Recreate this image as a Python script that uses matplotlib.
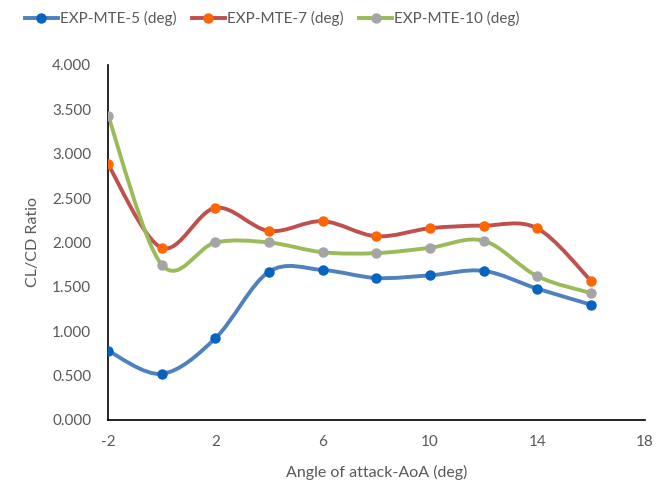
import numpy as np
import matplotlib
matplotlib.use("Agg")
import matplotlib.pyplot as plt
from matplotlib.path import Path
from matplotlib.patches import PathPatch
from matplotlib.lines import Line2D
from matplotlib.ticker import FormatStrFormatter, MultipleLocator

plt.rcParams['font.family'] = ['Lato', 'DejaVu Sans']
plt.rcParams['axes.unicode_minus'] = False

# === Data ===
aoa = [-2, 0, 2, 4, 6, 8, 10, 12, 14, 16]
mte5 = [0.78, 0.52, 0.92, 1.67, 1.69, 1.60, 1.63, 1.68, 1.48, 1.30]
mte7 = [2.88, 1.94, 2.39, 2.13, 2.24, 2.07, 2.16, 2.19, 2.16, 1.57]
mte10 = [3.43, 1.75, 2.00, 2.00, 1.89, 1.88, 1.94, 2.02, 1.62, 1.43]
labels = ["EXP-MTE-5 (deg)", "EXP-MTE-7 (deg)", "EXP-MTE-10 (deg)"]
x_ticks = [-2, 2, 6, 10, 14, 18]

line_colors = ["#4F81BD", "#C0504D", "#9BBB59"]
marker_colors = ["#0563C1", "#FF6600", "#A5A5A5"]
text_color = "#595959"


# Excel-style smoothed line: cubic bezier through points (catmull-rom)
def smooth_path(xs, ys):
    pts = np.column_stack([xs, ys]).astype(float)
    n = len(pts)
    verts = [pts[0]]
    codes = [Path.MOVETO]
    for i in range(n - 1):
        p0 = pts[max(i - 1, 0)]
        p1 = pts[i]
        p2 = pts[i + 1]
        p3 = pts[min(i + 2, n - 1)]
        c1 = p1 + (p2 - p0) / 6.0
        c2 = p2 - (p3 - p1) / 6.0
        verts += [c1, c2, p2]
        codes += [Path.CURVE4] * 3
    return Path(verts, codes)


fig = plt.figure(figsize=(6.57, 4.90), dpi=100)
ax = fig.add_axes([0.1644, 0.1429, 0.8166, 0.7245])

for ys, lc, mc in zip([mte5, mte7, mte10], line_colors, marker_colors):
    patch = PathPatch(smooth_path(aoa, ys), fill=False, edgecolor=lc,
                      linewidth=2.8, capstyle='round', joinstyle='round')
    ax.add_patch(patch)
    ax.plot(aoa, ys, linestyle='none', marker='o', markersize=6.5,
            markerfacecolor=mc, markeredgecolor=mc, zorder=3)

ax.set_xlim(-2, 18)
ax.set_ylim(0, 4)
ax.set_xticks(x_ticks)
ax.yaxis.set_major_locator(MultipleLocator(0.5))
ax.yaxis.set_major_formatter(FormatStrFormatter('%.3f'))
ax.tick_params(length=0, labelsize=11, labelcolor=text_color)
ax.tick_params(axis='y', pad=12)
ax.tick_params(axis='x', pad=11)

for s in ['top', 'right']:
    ax.spines[s].set_visible(False)
for s in ['left', 'bottom']:
    ax.spines[s].set_color('black')
    ax.spines[s].set_linewidth(1.2)

ax.set_xlabel("Angle of attack-AoA (deg)", fontsize=11.5, color=text_color, labelpad=11)
ax.set_ylabel("CL/CD Ratio", fontsize=11.5, color=text_color, labelpad=9)

handles = [Line2D([0], [0], color=lc, linewidth=2.8, marker='o', markersize=6.5,
                  markerfacecolor=mc, markeredgecolor=mc)
           for lc, mc in zip(line_colors, marker_colors)]
leg = fig.legend(handles, labels, loc='upper center', bbox_to_anchor=(0.414, 1.005),
                 ncol=3, frameon=False, fontsize=11, handlelength=2.2,
                 handletextpad=0.1, columnspacing=1.0, labelcolor=text_color)

fig.savefig("out.png", dpi=100)
